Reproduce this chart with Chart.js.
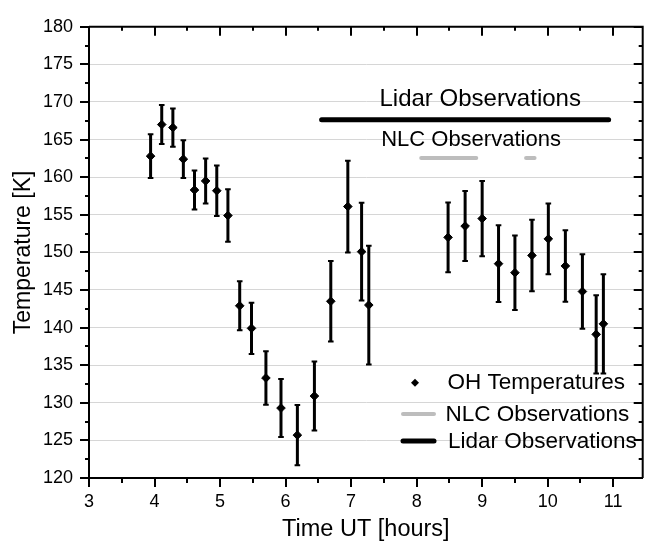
<!DOCTYPE html>
<html>
<head>
<meta charset="utf-8">
<script src="https://cdn.jsdelivr.net/npm/chart.js@4"></script>
<style>
html, body { margin: 0; padding: 0; background: #fff; }
</style>
</head>
<body>
<canvas id="chart" width="648" height="546"></canvas>
<script>
// OH temperatures (hours UT, K) with symmetric errors
var times = [3.94, 4.11, 4.28, 4.44, 4.61, 4.78, 4.95, 5.12, 5.30, 5.48, 5.70, 5.93, 6.18, 6.44, 6.69, 6.95, 7.16, 7.27, 8.48, 8.74, 9.00, 9.25, 9.50, 9.76, 10.01, 10.27, 10.53, 10.74, 10.85];
var temps = [162.8, 167.0, 166.6, 162.4, 158.3, 159.5, 158.2, 154.9, 142.9, 139.9, 133.3, 129.3, 125.7, 130.9, 143.5, 156.1, 150.1, 143.0, 152.0, 153.5, 154.5, 148.5, 147.3, 149.6, 151.8, 148.2, 144.8, 139.1, 140.5];
var errors = [2.9, 2.6, 2.55, 2.5, 2.6, 3.0, 3.35, 3.5, 3.25, 3.4, 3.55, 3.85, 4.0, 4.6, 5.35, 6.1, 6.5, 7.9, 4.65, 4.65, 5.0, 5.1, 4.95, 4.75, 4.7, 4.75, 4.95, 5.2, 6.6];

// observation periods drawn as bars
var lidarStart = [6.55];
var lidarEnd = [10.93];
var lidarLevel = 167.65;
var nlcStart = [8.07, 9.67];
var nlcEnd = [8.91, 9.80];
var nlcLevel = 162.55;

var xTicks = [3, 4, 5, 6, 7, 8, 9, 10, 11];
var yTicks = [120, 125, 130, 135, 140, 145, 150, 155, 160, 165, 170, 175, 180];

var FONT = "'Liberation Sans', Arial, sans-serif";

function segments(starts, ends, level) {
  var out = [];
  for (var i = 0; i < starts.length; i++) {
    if (i > 0) out.push({ x: (ends[i - 1] + starts[i]) / 2, y: null });
    out.push({ x: starts[i], y: level });
    out.push({ x: ends[i], y: level });
  }
  return out;
}

var ohData = times.map(function (t, i) { return { x: t, y: temps[i] }; });

var errorBars = {
  id: 'errorBars',
  beforeDatasetsDraw: function (chart) {
    var ctx = chart.ctx, xs = chart.scales.x, ys = chart.scales.y;
    ctx.save();
    ctx.strokeStyle = '#000';
    for (var i = 0; i < times.length; i++) {
      var px = xs.getPixelForValue(times[i]);
      var top = ys.getPixelForValue(temps[i] + errors[i]);
      var bot = ys.getPixelForValue(temps[i] - errors[i]);
      ctx.lineWidth = 3;
      ctx.beginPath();
      ctx.moveTo(px, top);
      ctx.lineTo(px, bot);
      ctx.stroke();
      ctx.lineWidth = 2;
      ctx.beginPath();
      ctx.moveTo(px - 2.8, top); ctx.lineTo(px + 2.8, top);
      ctx.moveTo(px - 2.8, bot); ctx.lineTo(px + 2.8, bot);
      ctx.stroke();
    }
    ctx.restore();
  }
};

var frameTicks = {
  id: 'frameTicks',
  afterDraw: function (chart) {
    var ctx = chart.ctx, a = chart.chartArea;
    var xs = chart.scales.x, ys = chart.scales.y;
    ctx.save();
    ctx.strokeStyle = '#000';
    ctx.lineWidth = 2;
    ctx.beginPath();
    ctx.moveTo(a.left, a.top);
    ctx.lineTo(a.right, a.top);
    ctx.lineTo(a.right, a.bottom);
    ctx.stroke();

    ctx.beginPath();
    var v, p, major;
    for (v = xs.min; v <= xs.max + 1e-9; v += 0.5) {
      p = Math.round(xs.getPixelForValue(v));
      major = Math.abs(v - Math.round(v)) < 1e-6;
      ctx.moveTo(p, a.bottom);
      ctx.lineTo(p, a.bottom + (major ? 9 : 5));
      ctx.moveTo(p, a.top);
      ctx.lineTo(p, a.top + (major ? 9 : 4));
    }
    for (v = ys.min; v <= ys.max + 1e-9; v += 2.5) {
      p = Math.round(ys.getPixelForValue(v));
      major = Math.abs(v / 5 - Math.round(v / 5)) < 1e-6;
      ctx.moveTo(a.left, p);
      ctx.lineTo(a.left - (major ? 9 : 4), p);
      ctx.moveTo(a.right, p);
      ctx.lineTo(a.right - (major ? 9 : 4), p);
    }
    ctx.stroke();
    ctx.restore();
  }
};

var labels = {
  id: 'labels',
  afterDatasetsDraw: function (chart) {
    var ctx = chart.ctx, xs = chart.scales.x, ys = chart.scales.y;
    var ds = chart.data.datasets;
    ctx.save();
    ctx.fillStyle = '#000';
    ctx.textAlign = 'center';
    ctx.textBaseline = 'middle';
    ctx.font = '24px ' + FONT;
    ctx.fillText('Lidar Observations', xs.getPixelForValue(8.97), ys.getPixelForValue(170.3));
    ctx.font = '22px ' + FONT;
    ctx.fillText('NLC Observations', xs.getPixelForValue(8.83), ys.getPixelForValue(164.9));

    // legend, lower right
    ctx.textAlign = 'left';
    ctx.font = '22.5px ' + FONT;
    ctx.fillStyle = ds[0].backgroundColor;
    ctx.beginPath();
    ctx.moveTo(415, 378.7); ctx.lineTo(419, 382.7); ctx.lineTo(415, 386.7); ctx.lineTo(411, 382.7);
    ctx.closePath();
    ctx.fill();
    ctx.fillText(ds[0].label, 447.5, 382.7);

    ctx.lineCap = 'round';
    ctx.strokeStyle = ds[1].borderColor;
    ctx.lineWidth = ds[1].borderWidth;
    ctx.beginPath(); ctx.moveTo(403, 414); ctx.lineTo(434, 414); ctx.stroke();
    ctx.fillText(ds[1].label, 445.5, 414.7);

    ctx.strokeStyle = ds[2].borderColor;
    ctx.lineWidth = ds[2].borderWidth;
    ctx.beginPath(); ctx.moveTo(403, 441); ctx.lineTo(434, 441); ctx.stroke();
    ctx.fillText(ds[2].label, 448, 441.7);
    ctx.restore();
  }
};

new Chart(document.getElementById('chart'), {
  type: 'scatter',
  data: {
    datasets: [
      {
        label: 'OH Temperatures',
        data: ohData,
        showLine: false,
        pointStyle: 'rectRot',
        pointRadius: 4.3,
        pointBorderWidth: 1,
        backgroundColor: '#000',
        borderColor: '#000'
      },
      {
        label: 'NLC Observations',
        data: segments(nlcStart, nlcEnd, nlcLevel),
        showLine: true,
        spanGaps: false,
        pointRadius: 0,
        borderColor: '#bdbdbd',
        borderWidth: 4,
        borderCapStyle: 'round'
      },
      {
        label: 'Lidar Observations',
        data: segments(lidarStart, lidarEnd, lidarLevel),
        showLine: true,
        pointRadius: 0,
        borderColor: '#000',
        borderWidth: 5,
        borderCapStyle: 'round'
      }
    ]
  },
  options: {
    responsive: false,
    animation: false,
    layout: { padding: { top: 22, right: 2, left: 0, bottom: 0 } },
    plugins: { legend: { display: false }, tooltip: { enabled: false } },
    scales: {
      x: {
        type: 'linear',
        min: 3,
        max: 11.45,
        afterFit: function (s) { s.height = 68; },
        afterBuildTicks: function (s) { s.ticks = xTicks.map(function (v) { return { value: v }; }); },
        ticks: { color: '#000', padding: 13, font: { size: 18, family: FONT } },
        grid: { drawOnChartArea: false, drawTicks: false },
        border: { display: true, color: '#000', width: 2 },
        title: { display: true, text: 'Time UT [hours]', color: '#000', font: { size: 23.5, family: FONT }, padding: { top: 0, bottom: 2 } }
      },
      y: {
        min: 120,
        max: 180,
        afterFit: function (s) { s.width = 89; },
        afterBuildTicks: function (s) { s.ticks = yTicks.map(function (v) { return { value: v }; }); },
        ticks: { color: '#000', padding: 16, font: { size: 18, family: FONT } },
        grid: { color: '#d6d6d6', lineWidth: 1, drawTicks: false },
        border: { display: true, color: '#000', width: 2 },
        title: { display: true, text: 'Temperature [K]', color: '#000', font: { size: 23, family: FONT }, padding: { top: 10, bottom: 0 } }
      }
    }
  },
  plugins: [errorBars, frameTicks, labels]
});
</script>
</body>
</html>
